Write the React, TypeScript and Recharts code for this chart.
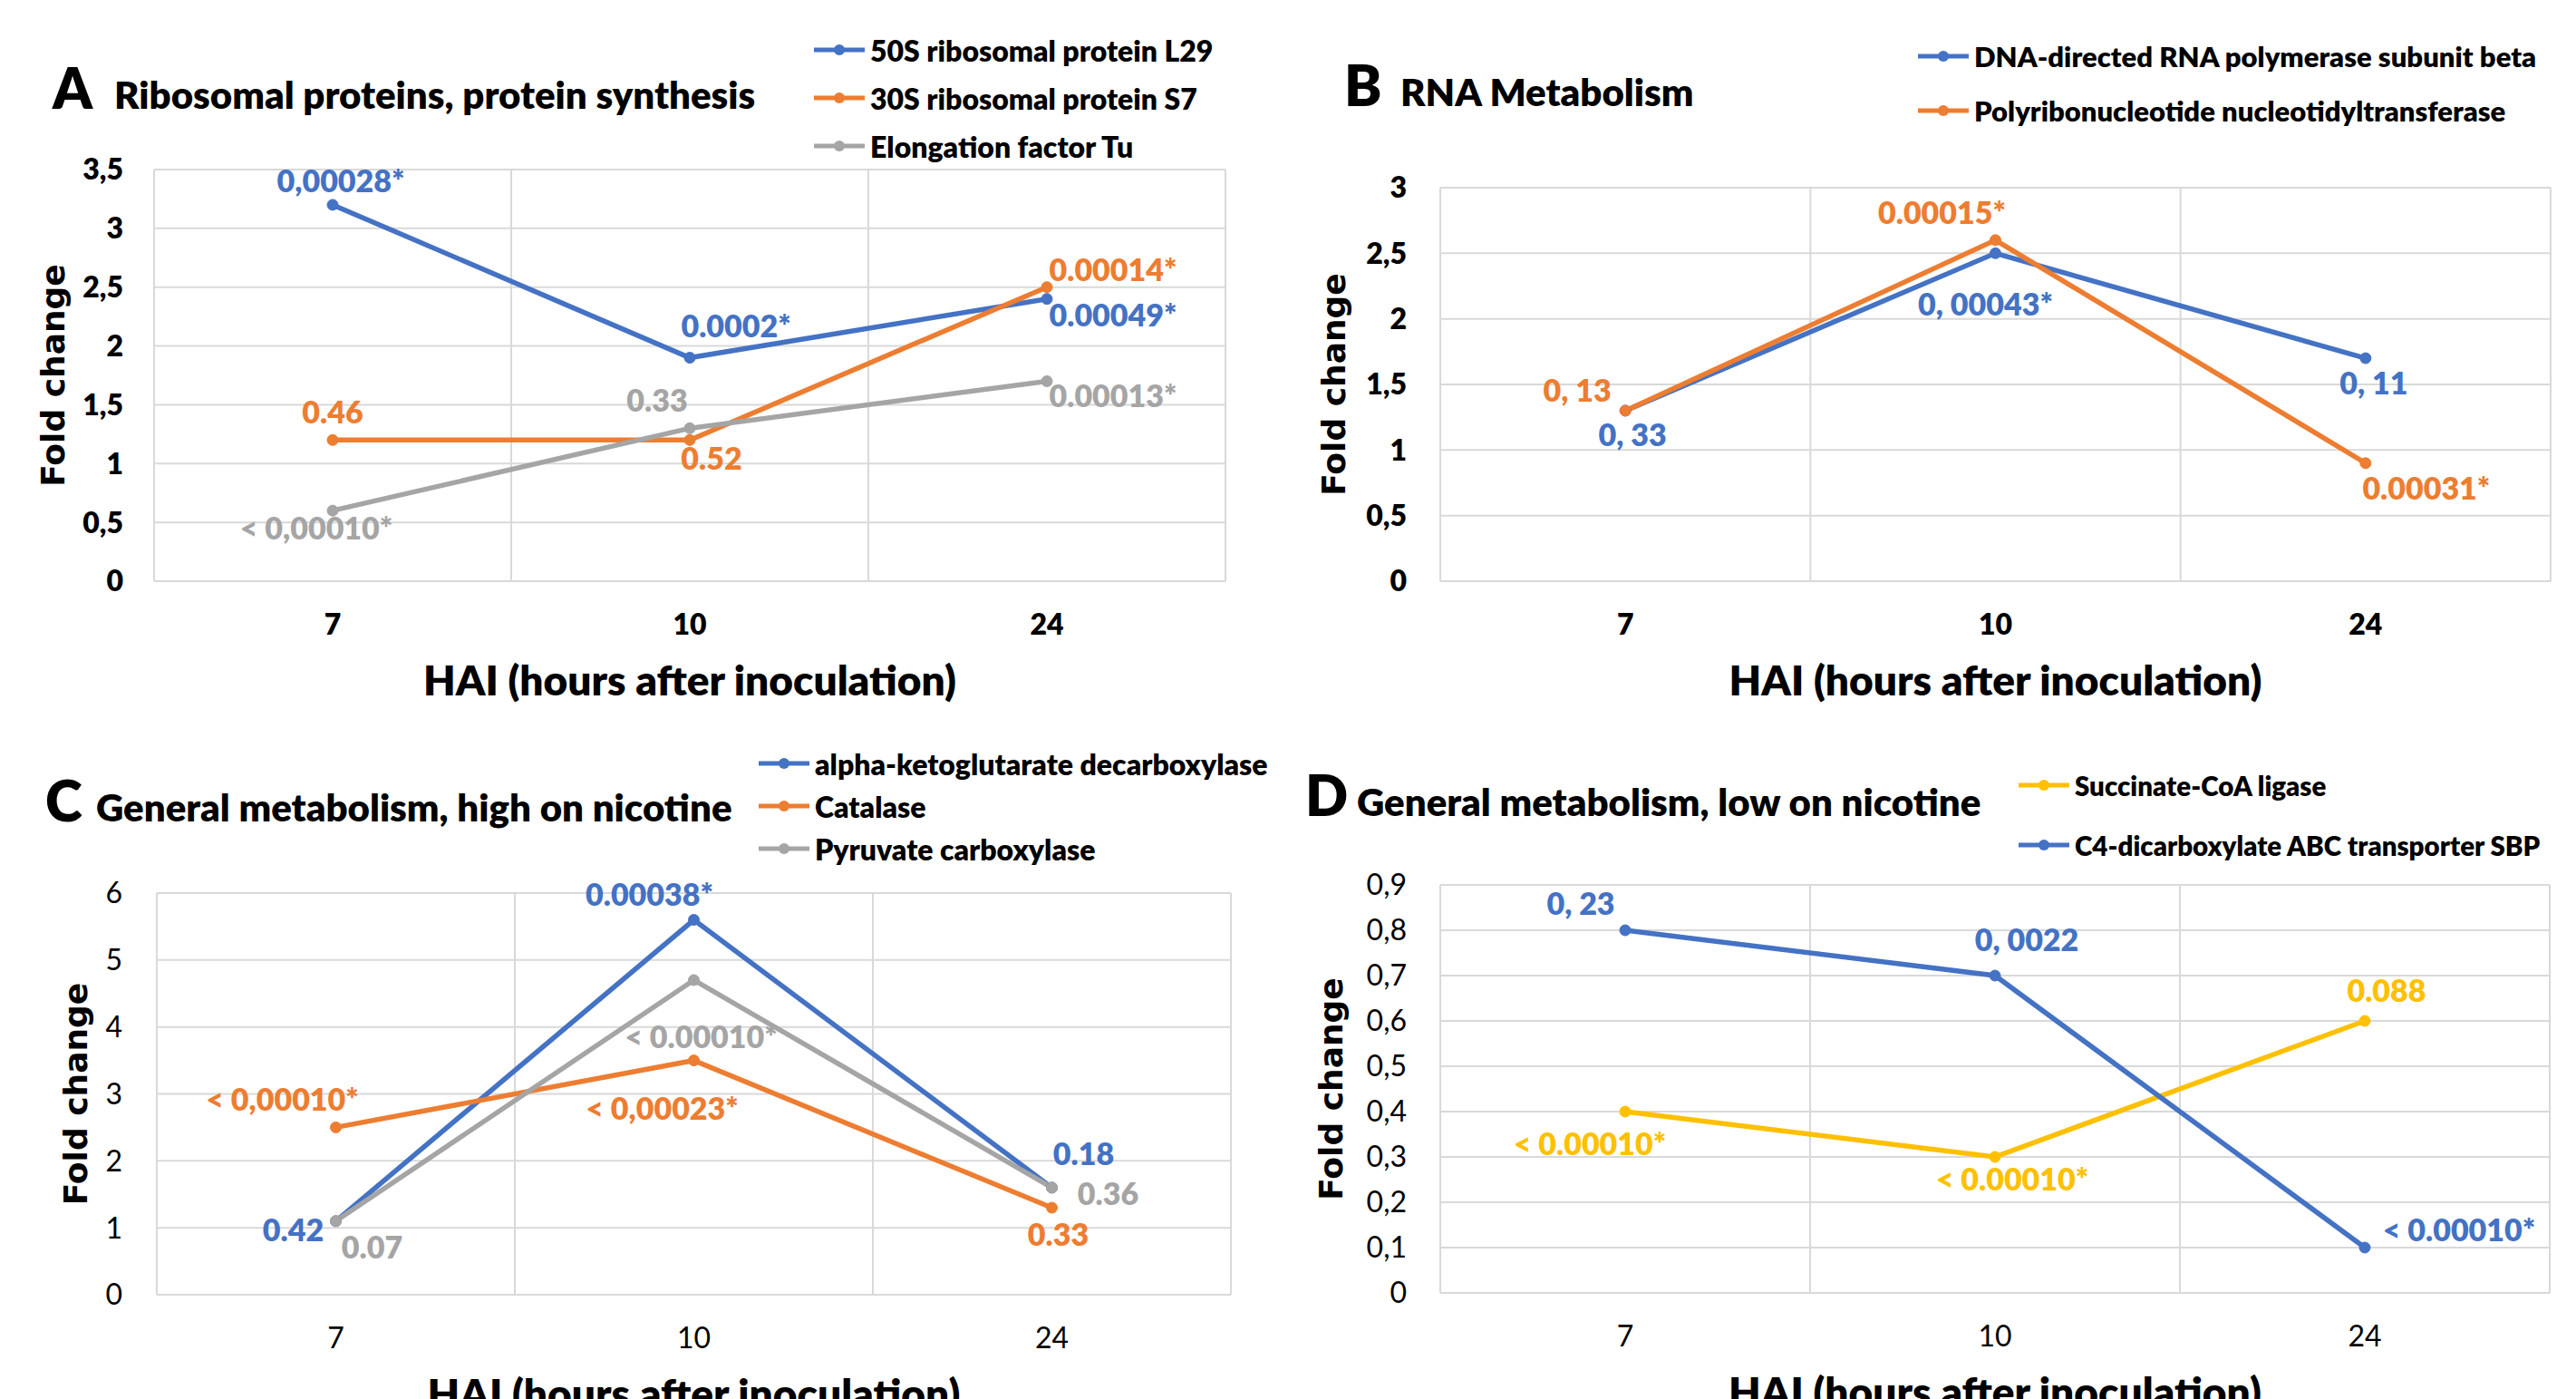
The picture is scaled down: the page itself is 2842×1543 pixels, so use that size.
import React from 'react';
import { LineChart, Line, XAxis, YAxis, CartesianGrid, ReferenceLine, LabelList, Legend, Label } from 'recharts';

const FONT = 'Lato, "Open Sans", sans-serif';
const BOLD = 800;
const BLUE = '#4472C4';
const ORANGE = '#ED7D31';
const GRAY = '#A5A5A5';
const GOLD = '#FFC000';
const GRID = '#D9D9D9';

const HAI = ['7', '10', '24'];
const BAND_EDGES = [-0.5, 0.5, 1.5, 2.5];

// A - ribosomal proteins
const A_TICKS = [0, 0.5, 1, 1.5, 2, 2.5, 3, 3.5];
const A_L29 = [3.2, 1.9, 2.4];
const A_S7 = [1.2, 1.2, 2.5];
const A_TU = [0.6, 1.3, 1.7];
const A_L29_P = ['0,00028*', '0.0002*', '0.00049*'];
const A_S7_P = ['0.46', '0.52', '0.00014*'];
const A_TU_P = ['< 0,00010*', '0.33', '0.00013*'];

// B - RNA metabolism
const B_TICKS = [0, 0.5, 1, 1.5, 2, 2.5, 3];
const B_RPOB = [1.3, 2.5, 1.7];
const B_PNP = [1.3, 2.6, 0.9];
const B_RPOB_P = ['0, 33', '0, 00043*', '0, 11'];
const B_PNP_P = ['0, 13', '0.00015*', '0.00031*'];

// C - high on nicotine
const C_TICKS = [0, 1, 2, 3, 4, 5, 6];
const C_KGD = [1.1, 5.6, 1.6];
const C_CAT = [2.5, 3.5, 1.3];
const C_PYC = [1.1, 4.7, 1.6];
const C_KGD_P = ['0.42', '0.00038*', '0.18'];
const C_CAT_P = ['< 0,00010*', '< 0,00023*', '0.33'];
const C_PYC_P = ['0.07', '< 0.00010*', '0.36'];

// D - low on nicotine
const D_TICKS = [0, 0.1, 0.2, 0.3, 0.4, 0.5, 0.6, 0.7, 0.8, 0.9];
const D_SUC = [0.4, 0.3, 0.6];
const D_C4 = [0.8, 0.7, 0.1];
const D_SUC_P = ['< 0.00010*', '< 0.00010*', '0.088'];
const D_C4_P = ['0, 23', '0, 0022', '< 0.00010*'];

// label placement (dx, dy from the point to the label centre)
const POS = {
  aL29: [[9, -26], [51, -35], [73, 18]],
  aS7: [[0, -30], [24, 21], [73, -19]],
  aTu: [[-18, 20], [-36, -30], [73, 17]],
  bRpob: [[8, 27], [-11, 57], [9, 28]],
  bPnp: [[-53, -22], [-59, -30], [67, 28]],
  cKgd: [[-47, 10], [-49, -28], [35, -37]],
  cCat: [[-59, -30], [-35, 53], [7, 30]],
  cPyc: [[40, 29], [8, 63], [62, 7]],
  dSuc: [[-39, 36], [19, 25], [24, -33]],
  dC4: [[-49, -29], [35, -39], [104, -19]],
};

type Series = { name: string; color: string; values: number[]; pvals: string[]; pos: number[][] };

const PANELS = [
  {
    id: 'A', title: 'Ribosomal proteins, protein synthesis',
    box: { left: 0, top: 0, width: 1420, height: 780 },
    plot: { left: 170, top: 187, right: 1352, bottom: 641 },
    ticks: A_TICKS, bold: true, tickGap: 34, yTitleX: 58,
    letterX: 58, titleX: 126, titleBase: 120,
    legend: { x: 898, y: 55, rowH: 53, font: 32 },
    series: [
      { name: '50S ribosomal protein L29', color: BLUE, values: A_L29, pvals: A_L29_P, pos: POS.aL29 },
      { name: '30S ribosomal protein S7', color: ORANGE, values: A_S7, pvals: A_S7_P, pos: POS.aS7 },
      { name: 'Elongation factor Tu', color: GRAY, values: A_TU, pvals: A_TU_P, pos: POS.aTu },
    ] as Series[],
  },
  {
    id: 'B', title: 'RNA Metabolism',
    box: { left: 1420, top: 0, width: 1422, height: 780 },
    plot: { left: 1589, top: 207, right: 2814, bottom: 641 },
    ticks: B_TICKS, bold: true, tickGap: 37, yTitleX: 1471,
    letterX: 1483, titleX: 1545, titleBase: 117,
    legend: { x: 2116, y: 62, rowH: 60, font: 31 },
    series: [
      { name: 'DNA-directed RNA polymerase subunit beta', color: BLUE, values: B_RPOB, pvals: B_RPOB_P, pos: POS.bRpob },
      { name: 'Polyribonucleotide nucleotidyltransferase', color: ORANGE, values: B_PNP, pvals: B_PNP_P, pos: POS.bPnp },
    ] as Series[],
  },
  {
    id: 'C', title: 'General metabolism, high on nicotine',
    box: { left: 0, top: 780, width: 1420, height: 763 },
    plot: { left: 173, top: 985, right: 1358, bottom: 1428 },
    ticks: C_TICKS, bold: false, tickGap: 38, yTitleX: 83,
    letterX: 50, titleX: 106, titleBase: 906,
    legend: { x: 837, y: 842, rowH: 47, font: 32 },
    series: [
      { name: 'alpha-ketoglutarate decarboxylase', color: BLUE, values: C_KGD, pvals: C_KGD_P, pos: POS.cKgd },
      { name: 'Catalase', color: ORANGE, values: C_CAT, pvals: C_CAT_P, pos: POS.cCat },
      { name: 'Pyruvate carboxylase', color: GRAY, values: C_PYC, pvals: C_PYC_P, pos: POS.cPyc },
    ] as Series[],
  },
  {
    id: 'D', title: 'General metabolism, low on nicotine',
    box: { left: 1420, top: 780, width: 1422, height: 763 },
    plot: { left: 1589, top: 976, right: 2813, bottom: 1426 },
    ticks: D_TICKS, bold: false, tickGap: 37, yTitleX: 1468,
    letterX: 1440, titleX: 1497, titleBase: 900,
    legend: { x: 2227, y: 866, rowH: 66, font: 29.5 },
    series: [
      { name: 'Succinate-CoA ligase', color: GOLD, values: D_SUC, pvals: D_SUC_P, pos: POS.dSuc },
      { name: 'C4-dicarboxylate ABC transporter SBP', color: BLUE, values: D_C4, pvals: D_C4_P, pos: POS.dC4 },
    ] as Series[],
  },
];

const comma = (v: number) => String(v).replace('.', ',');

// legend keeps the series order of the panel, not alphabetical
const makeLegend = (rowH: number, font: number, order: string[]) => (props: any) => {
  const items = [...(props.payload || [])].sort((a: any, b: any) => order.indexOf(a.value) - order.indexOf(b.value));
  return (
    <div style={{ fontFamily: FONT, fontWeight: BOLD, fontSize: font, color: '#000' }}>
      {items.map((e: any) => (
        <div key={e.value} style={{ height: rowH, display: 'flex', alignItems: 'center', whiteSpace: 'nowrap' }}>
          <svg width={56} height={20} style={{ marginRight: 6, flex: 'none' }}>
            <line x1={0} y1={10} x2={56} y2={10} stroke={e.color} strokeWidth={5} />
            <circle cx={28} cy={10} r={6} fill={e.color} />
          </svg>
          <span>{e.value}</span>
        </div>
      ))}
    </div>
  );
};

const makePLabel = (s: Series) => (props: any) => {
  const x = props.x ?? props.viewBox?.x;
  const y = props.y ?? props.viewBox?.y;
  const [dx, dy] = s.pos[props.index] || [0, 0];
  return (
    <text
      key={`p-${props.index}`}
      x={x + dx}
      y={y + dy + 12}
      textAnchor="middle"
      fill={s.color}
      fontSize={34}
      fontWeight={BOLD}
      fontFamily={FONT}
    >
      {props.value}
    </text>
  );
};

function Panel({ cfg }: { cfg: (typeof PANELS)[number] }) {
  const { box, plot } = cfg;
  const data = HAI.map((h, i) => {
    const row: Record<string, number | string> = { i, hai: h };
    cfg.series.forEach((s, k) => {
      row['v' + k] = s.values[i];
      row['p' + k] = s.pvals[i];
    });
    return row;
  });
  const yW = plot.left - box.left;
  const xH = box.top + box.height - plot.bottom;
  const tickStyle = { fill: '#000', fontSize: 32, fontWeight: cfg.bold ? BOLD : 400, fontFamily: FONT };
  const midY = (plot.top + plot.bottom) / 2 - box.top;
  const midX = (plot.left + plot.right) / 2 - box.left;
  const yTx = cfg.yTitleX - box.left;

  return (
    <div style={{ position: 'absolute', left: box.left, top: box.top, width: box.width, height: box.height }}>
      <LineChart
        width={box.width}
        height={box.height}
        data={data}
        margin={{ top: plot.top - box.top, right: box.left + box.width - plot.right, left: 0, bottom: 0 }}
      >
        <CartesianGrid vertical={false} stroke={GRID} strokeWidth={2} />
        {BAND_EDGES.map((e) => (
          <ReferenceLine key={e} x={e} stroke={GRID} strokeWidth={2} ifOverflow="visible" />
        ))}
        <XAxis
          type="number"
          dataKey="i"
          domain={[-0.5, 2.5]}
          ticks={[0, 1, 2]}
          interval={0}
          tickFormatter={(v: number) => HAI[v]}
          axisLine={false}
          tickLine={false}
          tickSize={0}
          tickMargin={36}
          height={xH}
          tick={tickStyle}
        >
          <Label
            content={() => (
              <text x={midX} y={plot.bottom - box.top + 126} textAnchor="middle" fontSize={46} fontWeight={BOLD} fontFamily={FONT} fill="#000">
                HAI (hours after inoculation)
              </text>
            )}
          />
        </XAxis>
        <YAxis
          width={yW}
          domain={[cfg.ticks[0], cfg.ticks[cfg.ticks.length - 1]]}
          ticks={cfg.ticks}
          interval={0}
          tickFormatter={comma}
          axisLine={false}
          tickLine={false}
          tickSize={0}
          tickMargin={cfg.tickGap}
          tick={tickStyle}
        >
          <Label
            content={() => (
              <text
                x={yTx}
                y={midY + 13}
                transform={`rotate(-90, ${yTx}, ${midY})`}
                textAnchor="middle"
                fontSize={36}
                fontWeight={700}
                fontFamily='"DejaVu Sans", sans-serif'
                fill="#000"
              >
                Fold change
              </text>
            )}
          />
        </YAxis>
        <Legend
          layout="vertical"
          align="center"
          verticalAlign="middle"
          content={makeLegend(cfg.legend.rowH, cfg.legend.font, cfg.series.map((s) => s.name))}
          wrapperStyle={{
            left: cfg.legend.x - box.left,
            top: cfg.legend.y - cfg.legend.rowH / 2 - box.top,
            width: 'auto',
            height: 'auto',
          }}
        />
        {cfg.series.map((s, k) => (
          <Line
            key={s.name}
            name={s.name}
            dataKey={'v' + k}
            type="linear"
            stroke={s.color}
            strokeWidth={5.5}
            dot={{ r: 6, fill: s.color, stroke: s.color, strokeWidth: 1 }}
            activeDot={false}
            isAnimationActive={false}
          >
            <LabelList dataKey={'p' + k} content={makePLabel(s)} />
          </Line>
        ))}
      </LineChart>
    </div>
  );
}

export default function App() {
  return (
    <div
      style={{
        position: 'absolute',
        left: 0,
        top: 0,
        width: 2842,
        height: 1543,
        background: '#fff',
        overflow: 'hidden',
        fontFamily: FONT,
      }}
    >
      {PANELS.map((p) => (
        <Panel key={p.id} cfg={p} />
      ))}
      <svg width={2842} height={1543} style={{ position: 'absolute', left: 0, top: 0, pointerEvents: 'none' }}>
        {PANELS.map((p) => (
          <g key={p.id} fontFamily={FONT} fontWeight={BOLD} fill="#000">
            <text x={p.letterX} y={p.titleBase} fontSize={62}>
              {p.id}
            </text>
            <text x={p.titleX} y={p.titleBase} fontSize={42}>
              {p.title}
            </text>
          </g>
        ))}
      </svg>
    </div>
  );
}
